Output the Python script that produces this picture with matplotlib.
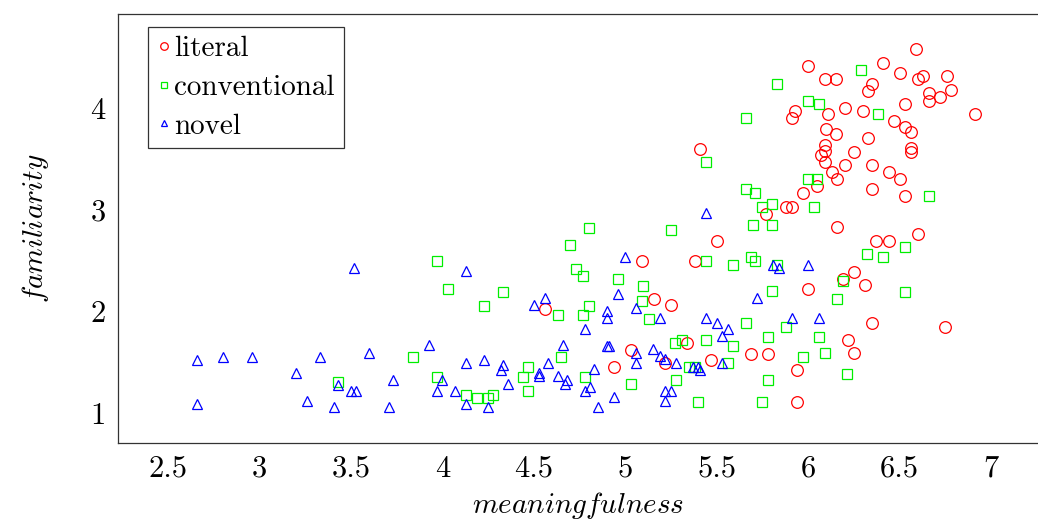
import matplotlib
matplotlib.use("Agg")
import matplotlib.pyplot as plt

plt.rcParams["font.family"] = "cmr10"
plt.rcParams["mathtext.fontset"] = "cm"
plt.rcParams["axes.formatter.use_mathtext"] = True

# literal idioms (red circles)
lit_x = [4.56, 4.94, 5.03, 5.09, 5.16, 5.22, 5.25, 5.34, 5.38, 5.41, 5.47, 5.50,
         5.69, 5.77, 5.78, 5.88, 5.91, 5.91, 5.93, 5.94, 5.94, 5.97, 6.00, 6.00,
         6.05, 6.07, 6.09, 6.09, 6.09, 6.09, 6.10, 6.11, 6.13, 6.15, 6.15, 6.16,
         6.16, 6.19, 6.20, 6.20, 6.22, 6.25, 6.25, 6.25, 6.30, 6.31, 6.33, 6.33,
         6.35, 6.35, 6.35, 6.35, 6.37, 6.41, 6.44, 6.44, 6.47, 6.50, 6.50, 6.53,
         6.53, 6.53, 6.56, 6.56, 6.56, 6.59, 6.60, 6.60, 6.63, 6.66, 6.66, 6.72,
         6.75, 6.76, 6.78, 6.91]
lit_y = [2.02, 1.45, 1.62, 2.49, 2.12, 1.49, 2.06, 1.69, 2.49, 3.60, 1.52, 2.69,
         1.58, 2.96, 1.58, 3.03, 3.03, 3.90, 3.97, 1.42, 1.11, 3.16, 4.41, 2.22,
         3.23, 3.54, 4.28, 3.64, 3.58, 3.47, 3.79, 3.94, 3.37, 4.28, 3.74, 3.30,
         2.83, 2.32, 4.00, 3.44, 1.72, 1.59, 2.39, 3.57, 3.97, 2.26, 4.17, 3.70,
         4.24, 3.44, 3.20, 1.89, 2.69, 4.44, 2.69, 3.37, 3.87, 4.34, 3.30, 4.04,
         3.81, 3.13, 3.76, 3.61, 3.57, 4.58, 4.28, 2.76, 4.31, 4.15, 4.07, 4.11,
         1.85, 4.31, 4.18, 3.94]

# conventional (green squares)
conv_x = [3.43, 3.84, 3.97, 3.97, 4.03, 4.13, 4.19, 4.23, 4.25, 4.28, 4.33, 4.44,
          4.47, 4.47, 4.63, 4.65, 4.70, 4.73, 4.77, 4.77, 4.78, 4.80, 4.80, 4.96,
          5.03, 5.09, 5.10, 5.13, 5.25, 5.27, 5.28, 5.31, 5.35, 5.38, 5.40, 5.44,
          5.44, 5.44, 5.56, 5.59, 5.59, 5.66, 5.66, 5.66, 5.69, 5.71, 5.71, 5.75,
          5.75, 5.70, 5.78, 5.78, 5.80, 5.80, 5.80, 5.83, 5.83, 5.88, 5.97, 6.00,
          6.00, 6.03, 6.05, 6.06, 6.06, 6.09, 6.16, 6.19, 6.21, 6.29, 6.32, 6.38,
          6.41, 6.53, 6.53, 6.66]
conv_y = [1.30, 1.55, 2.49, 1.35, 2.22, 1.18, 1.15, 2.05, 1.15, 1.18, 2.19, 1.35,
          1.45, 1.22, 1.96, 1.55, 2.65, 2.42, 2.35, 1.96, 1.35, 2.05, 2.82, 2.32,
          1.29, 2.10, 2.25, 1.92, 2.80, 1.69, 1.32, 1.72, 1.45, 1.45, 1.11, 2.49,
          1.72, 3.47, 1.49, 2.46, 1.66, 1.89, 3.90, 3.20, 2.53, 2.49, 3.16, 1.11,
          3.03, 2.85, 1.75, 1.32, 2.20, 3.06, 2.85, 2.46, 4.24, 1.85, 1.55, 4.07,
          3.30, 3.03, 3.30, 4.04, 1.75, 1.59, 2.12, 2.30, 1.38, 4.37, 2.56, 3.94,
          2.53, 2.63, 2.19, 3.13]

# novel (blue triangles)
nov_x = [2.66, 2.66, 2.80, 2.96, 3.20, 3.26, 3.33, 3.41, 3.43, 3.50, 3.53, 3.52,
         3.60, 3.71, 3.73, 3.93, 3.97, 4.00, 4.07, 4.13, 4.13, 4.13, 4.23, 4.25,
         4.32, 4.33, 4.36, 4.50, 4.53, 4.53, 4.56, 4.58, 4.63, 4.66, 4.67, 4.68,
         4.78, 4.78, 4.81, 4.83, 4.85, 4.90, 4.90, 4.90, 4.91, 4.94, 4.96, 5.00,
         5.06, 5.06, 5.06, 5.15, 5.19, 5.19, 5.22, 5.22, 5.22, 5.25, 5.28, 5.37,
         5.40, 5.41, 5.44, 5.44, 5.50, 5.53, 5.53, 5.56, 5.72, 5.81, 5.84, 5.91,
         6.00, 6.06]
nov_y = [1.52, 1.09, 1.55, 1.55, 1.39, 1.12, 1.55, 1.06, 1.28, 1.22, 1.22, 2.43,
         1.59, 1.06, 1.32, 1.67, 1.22, 1.32, 1.22, 2.40, 1.49, 1.09, 1.52, 1.06,
         1.42, 1.47, 1.29, 2.06, 1.39, 1.36, 2.13, 1.49, 1.36, 1.67, 1.29, 1.32,
         1.83, 1.22, 1.26, 1.43, 1.06, 2.00, 1.93, 1.66, 1.66, 1.16, 2.17, 2.53,
         2.03, 1.59, 1.49, 1.63, 1.93, 1.56, 1.53, 1.22, 1.12, 1.22, 1.49, 1.45,
         1.45, 1.42, 1.93, 2.97, 1.89, 1.76, 1.49, 1.83, 2.13, 2.46, 2.43, 1.93,
         2.46, 1.93]

xticks = [2.5, 3, 3.5, 4, 4.5, 5, 5.5, 6, 6.5, 7]
xtick_labels = ["2.5", "3", "3.5", "4", "4.5", "5", "5.5", "6", "6.5", "7"]
yticks = [1, 2, 3, 4]
ytick_labels = ["1", "2", "3", "4"]

fig = plt.figure(figsize=(10.38, 5.21), dpi=100)
ax = fig.add_axes([118 / 1038, 1 - 443 / 521, 920 / 1038, 429 / 521])

kw = dict(linestyle="none", fillstyle="none", markeredgewidth=0.9)
ax.plot(lit_x, lit_y, marker="o", color="#ff0000", markersize=8.4,
        label="literal", **kw)
ax.plot(conv_x, conv_y, marker="s", color="#00ee00", markersize=7.6,
        label="conventional", **kw)
ax.plot(nov_x, nov_y, marker="^", color="#0000ff", markersize=7.2,
        label="novel", **kw)

ax.set_xlim(2.227, 7.257)
ax.set_ylim(0.705, 4.924)
ax.set_xticks(xticks)
ax.set_xticklabels(xtick_labels)
ax.set_yticks(yticks)
ax.set_yticklabels(ytick_labels)
ax.tick_params(length=0, labelsize=22, pad=9)

for side, sp in ax.spines.items():
    sp.set_color("#333333")
    sp.set_linewidth(0.9)
ax.spines["right"].set_visible(False)

ax.set_xlabel(r"$\mathit{meaningfulness}$", fontsize=21, labelpad=5)
ax.set_ylabel(r"$\mathit{familiarity}$", fontsize=21, labelpad=28)

leg = ax.legend(loc="upper left", bbox_to_anchor=(30 / 920, 1 - 13 / 429),
                borderaxespad=0, fontsize=21, markerscale=0.65,
                handlelength=0.5, handletextpad=0.1, borderpad=0.3,
                labelspacing=0.42, fancybox=False, framealpha=1)
leg.get_frame().set_edgecolor("#333333")
leg.get_frame().set_linewidth(0.9)

fig.savefig("out.png", dpi=100)
